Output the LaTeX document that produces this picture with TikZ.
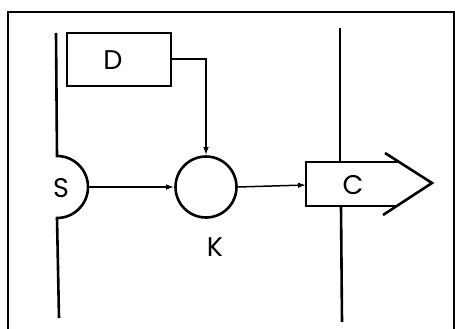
\documentclass[tikz,border=0pt]{standalone}
\usepackage{fontspec}
\setmainfont{Poppins}
\usetikzlibrary{arrows.meta}
\begin{document}
\begin{tikzpicture}[x=1pt,y=-1pt,
  thick line/.style={line width=2.6pt},
  frameline/.style={line width=2pt},
  conn/.style={line width=1.5pt,-{Latex[length=8pt,width=5.5pt]}},
  lbl/.style={font=\fontsize{27}{27}\selectfont,inner sep=0pt},
  boxnode/.style={draw,line width=2.6pt,minimum width=104pt,minimum height=53pt,inner sep=0pt}]
\useasboundingbox (0,0) rectangle (455,329);
% frame
\draw[frameline] (7.5,329) -- (7.5,12) -- (454,12) -- (454,329);
% left line with semicircle S
\draw[thick line] (56,33) -- (57,156) arc[start angle=-90,end angle=90,radius=31] -- (59,318);
\node[lbl] (S) at (61,188) {S};
\coordinate (sb) at (88,187);
% D box
\node[boxnode] (D) at (119,59.5) {};
\node[lbl] (Dl) at (113,60) {D};
% K circle
\node[draw,circle,line width=2.6pt,minimum size=61pt,inner sep=0pt] (K) at (206,187) {};
\node[lbl] (Kl) at (215,247) {K};
% right vertical line
\draw[thick line] (340,28) -- (340,162);
\draw[thick line] (341,206) -- (342,322);
% C shape
\coordinate (Cin) at (306,185);
\draw[thick line] (399,162) -- (306,162) -- (306,206) -- (397,206);
\draw[thick line] (385,153) -- (432,183) -- (383,215);
\node[lbl] (C) at (353,185) {C};
% connectors
\draw[conn] (D.east |- 0,59) -| (K.north);
\draw[conn] (sb) -- (K.west);
\draw[conn] (K.east) -- (Cin);
\end{tikzpicture}
\end{document}
